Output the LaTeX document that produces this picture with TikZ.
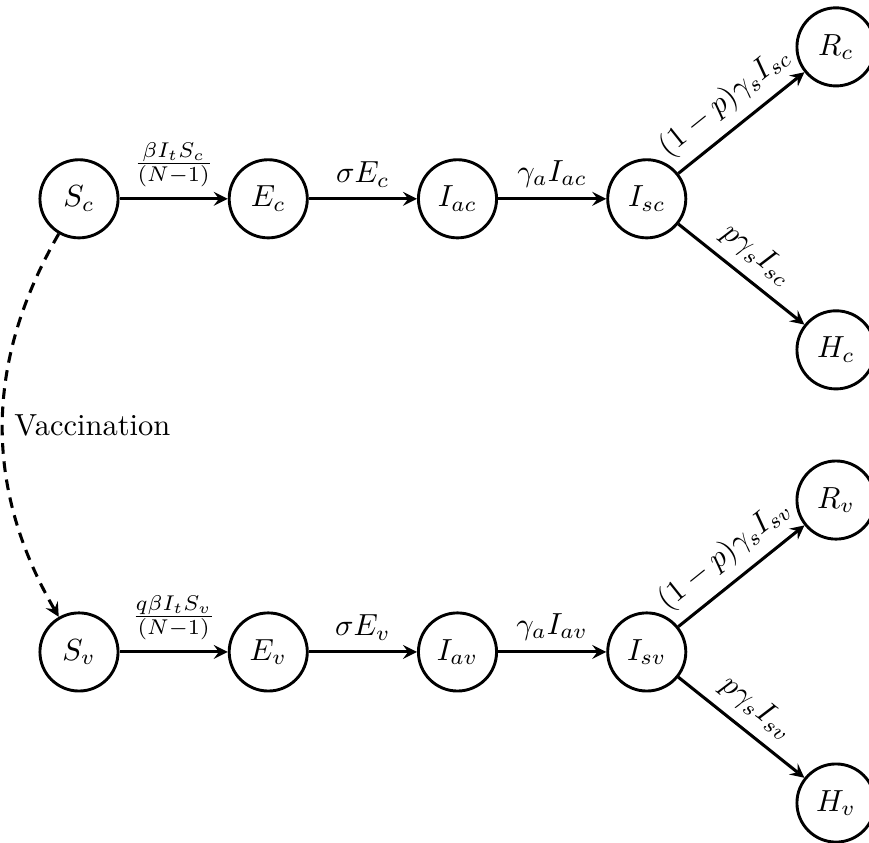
\documentclass[tikz,border=0pt]{standalone}
\usepackage{tikz}
\usetikzlibrary{positioning,arrows}

\begin{document}
\begin{tikzpicture}[
    >=stealth,
    state/.style={circle, draw, line width=0.95pt, minimum size=0.9cm, inner sep=0pt},
    flow/.style={->, line width=1pt},
    node distance=2.18cm, on grid
  ]
    \useasboundingbox (-0.91,2.29) rectangle (9.10,-7.41);

    % unvaccinated compartments
    \node[state] (Sc) {$S_c$};
    \node[state, right=of Sc] (Ec) {$E_c$};
    \node[state, right=of Ec] (Iac) {$I_{ac}$};
    \node[state, right=of Iac] (Isc) {$I_{sc}$};
    \node[state, above right=1.75cm and 2.18cm of Isc] (Rc) {$R_c$};
    \node[state, below right=1.74cm and 2.18cm of Isc] (Hc) {$H_c$};

    % vaccinated compartments
    \node[state, below=5.22cm of Sc] (Sv) {$S_v$};
    \node[state, right=of Sv] (Ev) {$E_v$};
    \node[state, right=of Ev] (Iav) {$I_{av}$};
    \node[state, right=of Iav] (Isv) {$I_{sv}$};
    \node[state, above right=1.75cm and 2.18cm of Isv] (Rv) {$R_v$};
    \node[state, below right=1.74cm and 2.18cm of Isv] (Hv) {$H_v$};

    \draw[flow] (Sc) -- node[above] {$\frac{\beta I_t S_c}{(N-1)}$} (Ec);
    \draw[flow] (Ec) -- node[above] {$\sigma E_c$} (Iac);
    \draw[flow] (Iac) -- node[above] {$\gamma_a I_{ac}$} (Isc);
    \draw[flow] (Isc) -- node[above, sloped] {$(1-p)\gamma_s I_{sc}$} (Rc);
    \draw[flow] (Isc) -- node[above, sloped] {$p\gamma_s I_{sc}$} (Hc);

    \draw[flow] (Sv) -- node[above] {$\frac{q\beta I_t S_v}{(N-1)}$} (Ev);
    \draw[flow] (Ev) -- node[above] {$\sigma E_v$} (Iav);
    \draw[flow] (Iav) -- node[above] {$\gamma_a I_{av}$} (Isv);
    \draw[flow] (Isv) -- node[above, sloped] {$(1-p)\gamma_s I_{sv}$} (Rv);
    \draw[flow] (Isv) -- node[above, sloped] {$p\gamma_s I_{sv}$} (Hv);

    \draw[flow, dash pattern=on 3.5pt off 2.5pt] (Sc) to[bend right=30] node[right] {Vaccination} (Sv);
\end{tikzpicture}
\end{document}
